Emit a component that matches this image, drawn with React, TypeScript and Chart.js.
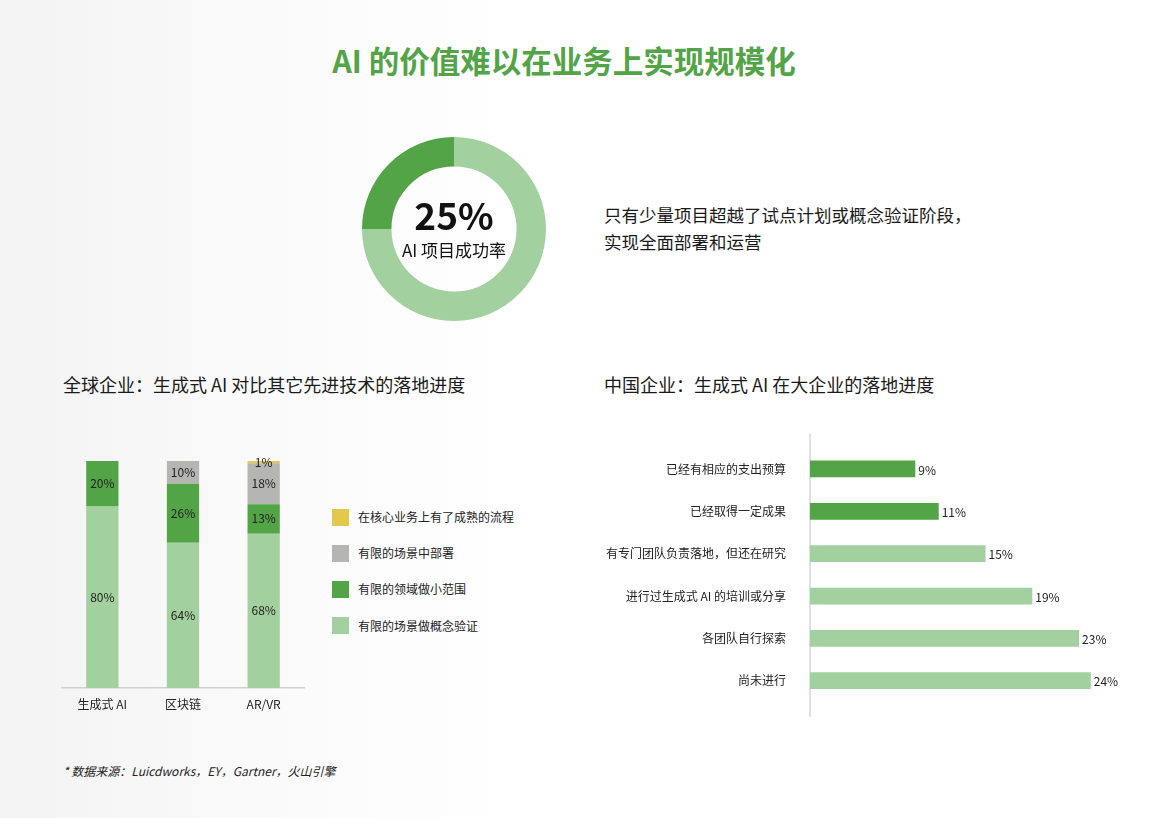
import { useEffect, useRef } from "react";
import { Chart, registerables } from "chart.js";

Chart.register(...registerables);

const FONT = "'Noto Sans CJK SC', 'Noto Sans', sans-serif";
Chart.defaults.font.family = FONT;

const DARK_GREEN = "#52a447";
const LIGHT_GREEN = "#a2d09e";
const GRAY = "#b5b5b4";
const YELLOW = "#e2c84c";

// donut
const donutLabels = ["其他", "AI 项目成功率"];
const donutValues = [75, 25];

// global tech adoption (stacked)
const techCategories = ["生成式 AI", "区块链", "AR/VR"];
const pocValues = [80, 64, 68];
const smallScopeValues = [20, 26, 13];
const limitedDeployValues = [0, 10, 18];
const matureValues = [0, 0, 1];
const stackNames = ["有限的场景做概念验证", "有限的领域做小范围", "有限的场景中部署", "在核心业务上有了成熟的流程"];
const stackColors = [LIGHT_GREEN, DARK_GREEN, GRAY, YELLOW];

// china enterprises (horizontal)
const progressLabels = [
  "已经有相应的支出预算",
  "已经取得一定成果",
  "有专门团队负责落地，但还在研究",
  "进行过生成式 AI 的培训或分享",
  "各团队自行探索",
  "尚未进行",
];
const progressValues = [9, 11, 15, 19, 23, 24];
const progressColors = [DARK_GREEN, DARK_GREEN, LIGHT_GREEN, LIGHT_GREEN, LIGHT_GREEN, LIGHT_GREEN];

const valueLabels = {
  id: "valueLabels",
  afterDatasetsDraw(chart: any, _args: any, opts: any) {
    const { ctx } = chart;
    ctx.save();
    ctx.font = `12px ${FONT}`;
    ctx.fillStyle = "#222";
    ctx.textBaseline = "middle";
    chart.data.datasets.forEach((ds: any, i: number) => {
      const meta = chart.getDatasetMeta(i);
      meta.data.forEach((el: any, j: number) => {
        const v = ds.data[j];
        if (!v) return;
        if (opts.inside) {
          ctx.textAlign = "center";
          ctx.fillText(v + "%", el.x, (el.y + el.base) / 2);
        } else {
          ctx.textAlign = "left";
          ctx.fillText(v + "%", el.x + 3, el.y + 1);
        }
      });
    });
    ctx.restore();
  },
};

// vertical axis line that runs a bit past the bars
const axisLine = {
  id: "axisLine",
  beforeDatasetsDraw(chart: any) {
    const { ctx, chartArea } = chart;
    ctx.save();
    ctx.strokeStyle = "#d9d9d9";
    ctx.lineWidth = 1.6;
    ctx.beginPath();
    ctx.moveTo(chartArea.left, chartArea.top - 14);
    ctx.lineTo(chartArea.left, chartArea.bottom + 15);
    ctx.stroke();
    ctx.restore();
  },
};

function DonutChart() {
  const chartRef = useRef<HTMLCanvasElement>(null);

  useEffect(() => {
    if (!chartRef.current) return;
    const chart = new Chart(chartRef.current, {
      type: "doughnut",
      data: {
        labels: donutLabels,
        datasets: [{ data: donutValues, backgroundColor: [LIGHT_GREEN, DARK_GREEN], borderWidth: 0 }],
      },
      options: {
        animation: false,
        responsive: true,
        maintainAspectRatio: false,
        cutout: "68%",
        plugins: { legend: { display: false }, tooltip: { enabled: false } },
      },
    });
    return () => chart.destroy();
  }, []);

  return (
    <div style={{ position: "absolute", left: 362, top: 137, width: 184, height: 184 }}>
      <canvas ref={chartRef}></canvas>
    </div>
  );
}

function StackedChart() {
  const chartRef = useRef<HTMLCanvasElement>(null);

  useEffect(() => {
    if (!chartRef.current) return;
    const series = [pocValues, smallScopeValues, limitedDeployValues, matureValues];
    const chart = new Chart(chartRef.current, {
      type: "bar",
      data: {
        labels: techCategories,
        datasets: series.map((d, i) => ({
          label: stackNames[i],
          data: d,
          backgroundColor: stackColors[i],
          categoryPercentage: 1,
          barPercentage: 0.4,
        })),
      },
      options: {
        animation: false,
        responsive: true,
        maintainAspectRatio: false,
        layout: { padding: { left: 12, right: 16, top: 11, bottom: 7 } },
        plugins: { legend: { display: false }, tooltip: { enabled: false }, valueLabels: { inside: true } } as any,
        scales: {
          x: {
            stacked: true,
            grid: { display: false, drawTicks: false },
            border: { color: "#d0d0d0", width: 1.5 },
            ticks: { color: "#222", font: { size: 12 }, padding: 9 },
            afterFit: (scale: any) => {
              scale.height = 30;
            },
          },
          y: { stacked: true, display: false, min: 0, max: 100 },
        },
      },
      plugins: [valueLabels],
    });
    return () => chart.destroy();
  }, []);

  return (
    <div style={{ position: "absolute", left: 50, top: 450, width: 270, height: 275 }}>
      <canvas ref={chartRef}></canvas>
    </div>
  );
}

function ProgressChart() {
  const chartRef = useRef<HTMLCanvasElement>(null);

  useEffect(() => {
    if (!chartRef.current) return;
    const chart = new Chart(chartRef.current, {
      type: "bar",
      data: {
        labels: progressLabels,
        datasets: [
          {
            data: progressValues,
            backgroundColor: progressColors,
            categoryPercentage: 1,
            barPercentage: 0.395,
          },
        ],
      },
      options: {
        indexAxis: "y",
        animation: false,
        responsive: true,
        maintainAspectRatio: false,
        layout: { padding: { left: 0, right: 12.4, top: 17.8, bottom: 18.1 } },
        plugins: { legend: { display: false }, tooltip: { enabled: false }, valueLabels: { inside: false } } as any,
        scales: {
          x: { display: false, min: 0, max: 28 },
          y: {
            grid: { display: false, drawTicks: false },
            border: { display: false },
            ticks: { color: "#222", font: { size: 12 }, padding: 24 },
            afterFit: (scale: any) => {
              scale.width = 220;
              scale.paddingTop = 0;
              scale.paddingBottom = 0;
            },
          },
        },
      },
      plugins: [axisLine, valueLabels],
    });
    return () => chart.destroy();
  }, []);

  return (
    <div style={{ position: "absolute", left: 590, top: 430, width: 560, height: 290 }}>
      <canvas ref={chartRef}></canvas>
    </div>
  );
}

const text = (left: number, center: number, size: number, extra: any = {}) => ({
  position: "absolute" as const,
  left,
  top: center - size * 0.7,
  lineHeight: `${size * 1.4}px`,
  fontSize: size,
  whiteSpace: "nowrap" as const,
  color: "#1a1a1a",
  ...extra,
});

export default function App() {
  const legendOrder = [3, 2, 1, 0];
  return (
    <div
      style={{
        position: "fixed",
        left: 0,
        top: 0,
        width: 1162,
        height: 818,
        overflow: "hidden",
        fontFamily: FONT,
        background: "linear-gradient(90deg, #f3f3f3 0%, #fafafa 22%, #ffffff 45%)",
      }}
    >
      <div style={text(0, 60, 30.5, { width: 1128, textAlign: "center", fontWeight: 700, color: DARK_GREEN })}>
        AI 的价值难以在业务上实现规模化
      </div>

      <DonutChart />
      <div style={text(354, 215, 37, { width: 200, textAlign: "center", fontWeight: 700, color: "#111" })}>25%</div>
      <div style={text(354, 250, 17, { width: 200, textAlign: "center", color: "#111" })}>AI 项目成功率</div>

      <div style={text(604, 215, 17.5)}>只有少量项目超越了试点计划或概念验证阶段，</div>
      <div style={text(604, 242, 17.5)}>实现全面部署和运营</div>

      <div style={text(63, 385, 18)}>全球企业：生成式 AI 对比其它先进技术的落地进度</div>
      <div style={text(604, 385, 18)}>中国企业：生成式 AI 在大企业的落地进度</div>

      <StackedChart />
      {legendOrder.map((idx, row) => (
        <div key={idx}>
          <div
            style={{
              position: "absolute",
              left: 332,
              top: 517 + row * 36.3 - 8.5,
              width: 17,
              height: 17,
              background: stackColors[idx],
            }}
          />
          <div style={text(358, 517 + row * 36.3, 12, { color: "#222" })}>{stackNames[idx]}</div>
        </div>
      ))}

      <ProgressChart />

      <div style={text(63, 771, 12, { fontStyle: "italic", color: "#222" })}>* 数据来源：Luicdworks，EY，Gartner，火山引擎</div>
    </div>
  );
}
